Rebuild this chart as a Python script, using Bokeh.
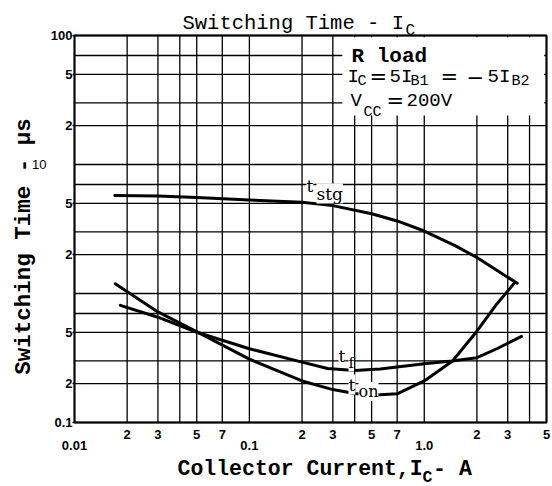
import math
from bokeh.plotting import figure
from bokeh.models import Range1d, FixedTicker, Label, BoxAnnotation, LogAxis
from bokeh.embed import file_html
from bokeh.resources import INLINE

# ---------------- data ----------------
IC_STG = [0.017, 0.03, 0.05, 0.1, 0.2, 0.3, 0.5, 0.7, 1.0, 1.5, 2.0, 3.4]
T_STG = [5.75, 5.7, 5.55, 5.3, 5.1, 4.8, 4.15, 3.65, 3.05, 2.35, 1.9, 1.2]

IC_ON = [0.0171, 0.03, 0.048, 0.1, 0.2, 0.3, 0.4, 0.5, 0.7, 1.0, 1.45, 2.0, 2.6, 3.3]
T_ON = [1.19, 0.72, 0.52, 0.31, 0.21, 0.18, 0.168, 0.163, 0.167, 0.21, 0.30, 0.51, 0.83, 1.22]

IC_F = [0.0183, 0.03, 0.048, 0.1, 0.2, 0.28, 0.4, 0.56, 1.0, 1.44, 2.0, 2.6, 3.6]
T_F = [0.81, 0.655, 0.51, 0.373, 0.294, 0.262, 0.253, 0.26, 0.285, 0.30, 0.318, 0.373, 0.465]

X_RANGE = (0.01, 5.0)
Y_RANGE = (0.1, 100.0)

X_MINOR_TICKS = [0.02, 0.03, 0.05, 0.07, 0.2, 0.3, 0.5, 0.7, 2.0, 3.0, 5.0]
X_MINOR_LABELS = ["2", "3", "5", "7", "2", "3", "5", "7", "2", "3", "5"]
X_DECADE_TICKS = [0.01, 0.1, 1.0]
X_DECADE_LABELS = ["0.01", "0.1", "1.0"]

Y_TICKS = [0.1, 0.2, 0.5, 2.0, 5.0, 20.0, 50.0, 100.0]
Y_TICK_LABELS = ["0.1", "2", "5", "2", "5", "2", "5", "100"]
Y_EXTRA_TICKS = [10.0]
Y_EXTRA_LABELS = ["10"]

X_GRID = [0.01, 0.02, 0.03, 0.04, 0.05, 0.07, 0.1, 0.2, 0.3, 0.4, 0.5, 0.7,
          1.0, 2.0, 3.0, 4.0, 5.0]
Y_GRID = [0.1, 0.2, 0.3, 0.5, 0.7, 1.0, 2.0, 3.0, 5.0, 7.0, 10.0, 20.0, 30.0,
          50.0, 70.0, 100.0]

# ---------------- layout: the chart box inside the canvas ----------------
W, H = 552, 486
BOX_L, BOX_R, BOX_T, BOX_B = 74, 546, 35, 422   # pixel edges of the chart box
lx0, lx1 = math.log10(X_RANGE[0]), math.log10(X_RANGE[1])
ly0, ly1 = math.log10(Y_RANGE[0]), math.log10(Y_RANGE[1])
kx = (BOX_R - BOX_L) / (lx1 - lx0)
ky = (BOX_B - BOX_T) / (ly1 - ly0)
VIEW_X = (10 ** (lx0 - BOX_L / kx), 10 ** (lx1 + (W - BOX_R) / kx))
VIEW_Y = (10 ** (ly0 - (H - BOX_B) / ky), 10 ** (ly1 + BOX_T / ky))

p = figure(width=W, height=H, x_axis_type="log", y_axis_type="log",
           x_range=Range1d(*VIEW_X), y_range=Range1d(*VIEW_Y),
           output_backend="svg", toolbar_location=None, min_border=0)
p.background_fill_color = "white"
p.border_fill_color = "white"
p.outline_line_color = None
p.xgrid.visible = False
p.ygrid.visible = False

TICK_FONT = "Liberation Sans"


def style_axis(ax, size="13px", bold=True):
    ax.axis_line_color = None
    ax.minor_tick_line_color = None
    ax.major_label_text_font = TICK_FONT
    ax.major_label_text_font_style = "bold" if bold else "normal"
    ax.major_label_text_font_size = size
    ax.major_label_text_color = "black"


# x axis: 2 3 5 7 labels right under the box
xa = p.xaxis[0]
xa.fixed_location = Y_RANGE[0]
xa.ticker = FixedTicker(ticks=X_MINOR_TICKS)
xa.major_label_overrides = {float(t): l for t, l in zip(X_MINOR_TICKS, X_MINOR_LABELS)}
xa.major_tick_line_color = None
xa.major_label_standoff = 1
style_axis(xa)

# x axis: decade labels, one row lower
xb = LogAxis(fixed_location=Y_RANGE[0], ticker=FixedTicker(ticks=X_DECADE_TICKS))
xb.major_label_overrides = {float(t): l for t, l in zip(X_DECADE_TICKS, X_DECADE_LABELS)}
xb.major_tick_line_color = None
xb.major_label_standoff = 12
style_axis(xb)
p.add_layout(xb, "below")

# y axis
ya = p.yaxis[0]
ya.fixed_location = X_RANGE[0]
ya.ticker = FixedTicker(ticks=Y_TICKS)
ya.major_label_overrides = {float(t): l for t, l in zip(Y_TICKS, Y_TICK_LABELS)}
ya.major_tick_line_color = "black"
ya.major_tick_line_width = 1.5
ya.major_tick_out = 2
ya.major_tick_in = 0
ya.major_label_standoff = 0
style_axis(ya)

# y axis: the "10" label, set further left
yb = LogAxis(fixed_location=X_RANGE[0], ticker=FixedTicker(ticks=Y_EXTRA_TICKS))
yb.major_label_overrides = {float(t): l for t, l in zip(Y_EXTRA_TICKS, Y_EXTRA_LABELS)}
yb.major_tick_line_color = None
yb.major_label_standoff = 22
style_axis(yb, bold=False)
p.add_layout(yb, "left")

# grid lines (limited to the chart box)
nx, ny = len(X_GRID), len(Y_GRID)
p.segment(x0=X_GRID, y0=[Y_RANGE[0]] * nx, x1=X_GRID, y1=[Y_RANGE[1]] * nx,
          line_color="black", line_width=1.3)
p.segment(x0=[X_RANGE[0]] * ny, y0=Y_GRID, x1=[X_RANGE[1]] * ny, y1=Y_GRID,
          line_color="black", line_width=1.3)

# ---------------- curves ----------------
for xs, ys in ((IC_STG, T_STG), (IC_ON, T_ON), (IC_F, T_F)):
    p.line(xs, ys, line_color="black", line_width=3, line_join="round", line_cap="round")

# white panel behind the condition text (top right) and the chart box border
p.add_layout(BoxAnnotation(left=0.34, right=4.85, bottom=24, top=97,
                           fill_color="white", fill_alpha=1.0, line_color=None))
p.add_layout(BoxAnnotation(left=X_RANGE[0], right=X_RANGE[1], bottom=Y_RANGE[0],
                           top=Y_RANGE[1], fill_color=None, fill_alpha=0.0,
                           line_color="black", line_width=2, line_alpha=1.0))


# ---------------- texts ----------------
def put(px, py, text, size, font="Liberation Mono", style="normal", align="left",
        baseline="alphabetic", angle=0.0, bg=None):
    lab = Label(x=X_RANGE[0], y=Y_RANGE[0], x_units="data", y_units="data",
                x_offset=px - BOX_L, y_offset=BOX_B - py, text=text,
                text_font=font, text_font_size=f"{size}px", text_font_style=style,
                text_align=align, text_baseline=baseline, angle=angle,
                text_color="black")
    if bg is not None:
        lab.background_fill_color = bg
        lab.background_fill_alpha = 1.0
    p.add_layout(lab)


# title  "Switching Time - I_C"
put(182, 23, "Switching Time - I", 20.5)
put(405, 30, "C", 16)

# axis titles
put(23, 246, "Switching Time - µs", 22.5, style="bold", align="center",
    baseline="middle", angle=math.pi / 2)
put(177, 468, "Collector Current,I", 21.5, style="bold")
put(177 + 19 * 12.9, 477, "C", 16.5, style="bold")
put(177 + 19 * 12.9 + 10.5, 468, " - A", 21.5, style="bold")

# condition box text
SANS = "DejaVu Sans"
put(351, 56, "R load", 21, style="bold")
put(347, 76, "I", 19)
put(357, 81, "C", 15)
put(369, 76, "=", 21, font=SANS)
put(389, 76, "5I", 19)
put(410, 81, "B1", 15)
put(440, 76, "=", 21, font=SANS)
put(466, 76, "−", 21, font=SANS)
put(487, 76, "5I", 19)
put(511, 81, "B2", 15)
put(350, 100, "V", 19)
put(363, 112, "CC", 15)
put(386, 100, "=", 21, font=SANS)
put(406, 100, "200V", 19)

# curve labels
SERIF = "DejaVu Serif"
put(306, 185, "t", 17, font=SERIF, bg="white")
put(316, 193, "stg", 17, font=SERIF, bg="white")
put(338, 355, "t", 17, font=SERIF, bg="white")
put(348, 362, "f", 15, font=SERIF, bg="white")
put(348, 384, "t", 17, font=SERIF, bg="white")
put(358, 391, "on", 16, font=SERIF, bg="white")

open("out.html", "w").write(file_html(p, INLINE))
